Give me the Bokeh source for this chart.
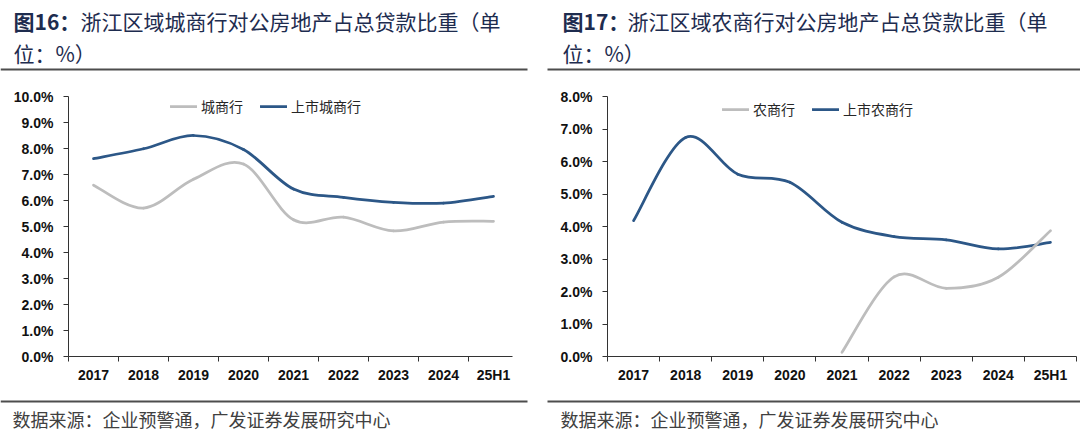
from bokeh.plotting import figure
from bokeh.models import (Range1d, FixedTicker, PrintfTickFormatter, Label, BoxAnnotation,
                          Legend, LegendItem)
from bokeh.layouts import row
from bokeh.embed import file_html
from bokeh.resources import INLINE

# ---------------- data ----------------
years = ["2017", "2018", "2019", "2020", "2021", "2022", "2023", "2024", "25H1"]
city_banks = [6.59, 5.71, 6.82, 7.40, 5.26, 5.36, 4.83, 5.17, 5.20]
listed_city_banks = [7.61, 7.99, 8.50, 7.96, 6.44, 6.12, 5.93, 5.90, 6.16]
rural_banks = [None, None, None, None, 0.13, 2.45, 2.10, 2.44, 3.87]
listed_rural_banks = [4.18, 6.74, 5.61, 5.36, 4.13, 3.69, 3.59, 3.31, 3.51]

left_title = ["图16：", "浙江区域城商行对公房地产占总贷款比重（单", "位：%）"]
right_title = ["图17：", "浙江区域农商行对公房地产占总贷款比重（单", "位：%）"]
left_legend = ["城商行", "上市城商行"]
right_legend = ["农商行", "上市农商行"]
source_text = "数据来源：企业预警通，广发证券发展研究中心"
left_yticks = list(range(0, 11))
right_yticks = list(range(0, 9))

GRAY = "#BDBDBD"
BLUE = "#2C5787"
TITLE_C = "#1E2C4F"
RULE_C = "#4D4D4D"
AXIS_C = "#333333"
CJK = "Noto Sans CJK SC"
LAT = "Liberation Sans"

PANEL_W = 540
TITLE_H = 72
CHART_H = 320
SRC_H = 42


def smooth_parts(ys):
    """Bezier segments (Catmull-Rom style, like a spreadsheet 'smoothed line')."""
    pts = [(float(i), y) for i, y in enumerate(ys) if y is not None]
    n = len(pts)
    d = dict(x0=[], y0=[], x1=[], y1=[], cx0=[], cy0=[], cx1=[], cy1=[])
    for i in range(n - 1):
        p0 = pts[i - 1] if i > 0 else pts[i]
        p1 = pts[i]
        p2 = pts[i + 1]
        p3 = pts[i + 2] if i + 2 < n else pts[i + 1]
        d["x0"].append(p1[0]); d["y0"].append(p1[1])
        d["x1"].append(p2[0]); d["y1"].append(p2[1])
        d["cx0"].append(p1[0] + (p2[0] - p0[0]) / 6.0)
        d["cy0"].append(p1[1] + (p2[1] - p0[1]) / 6.0)
        d["cx1"].append(p2[0] - (p3[0] - p1[0]) / 6.0)
        d["cy1"].append(p2[1] - (p3[1] - p1[1]) / 6.0)
    return d


def deco_fig(x0, y0, h):
    """Plain drawing surface whose data units are page pixels (y downwards)."""
    f = figure(width=PANEL_W, height=h, x_range=Range1d(x0, x0 + PANEL_W),
               y_range=Range1d(y0 + h, y0), x_axis_type=None, y_axis_type=None,
               output_backend="svg", toolbar_location=None,
               min_border_left=0, min_border_right=0, min_border_top=0, min_border_bottom=0,
               background_fill_color="white", border_fill_color="white",
               outline_line_color=None)
    f.title = None
    return f


def title_fig(x0, title, tx, tx_rest, rule_l, rule_r):
    f = deco_fig(x0, 0, TITLE_H)
    f.add_layout(Label(x=tx, y=20, text=title[0], text_font=CJK, text_font_style="bold",
                       text_font_size="21px", text_color=TITLE_C,
                       text_baseline="middle", text_align="left"))
    f.add_layout(Label(x=tx_rest, y=20, text=title[1], text_font=CJK,
                       text_font_size="21px", text_color=TITLE_C,
                       text_baseline="middle", text_align="left"))
    f.add_layout(Label(x=tx, y=52, text=title[2], text_font=CJK,
                       text_font_size="21px", text_color=TITLE_C,
                       text_baseline="middle", text_align="left"))
    f.add_layout(BoxAnnotation(left=rule_l, right=rule_r, top=68, bottom=70,
                               fill_color=RULE_C, fill_alpha=1, line_color=None))
    return f


def source_fig(x0, sx, rule_l, rule_r):
    y0 = TITLE_H + CHART_H
    f = deco_fig(x0, y0, SRC_H)
    f.add_layout(BoxAnnotation(left=rule_l, right=rule_r, top=400, bottom=402,
                               fill_color=RULE_C, fill_alpha=1, line_color=None))
    f.add_layout(Label(x=sx, y=418, text=source_text, text_font=CJK,
                       text_font_size="18px", text_color="#404040",
                       text_baseline="middle", text_align="left"))
    return f


def chart_fig(x_end, y_max, yticks, bl, br, bt, bb, gray_vals, blue_vals,
              legend_labels, legend_loc):
    p = figure(width=PANEL_W, height=CHART_H, x_range=Range1d(-0.5, x_end),
               y_range=Range1d(0, y_max), output_backend="svg", toolbar_location=None,
               min_border_left=bl, min_border_right=br,
               min_border_top=bt, min_border_bottom=bb,
               background_fill_color="white", border_fill_color="white",
               outline_line_color=None)
    p.title = None
    p.xgrid.visible = False
    p.ygrid.visible = False

    # x axis: labels at category centres, tick marks at category boundaries
    xax = p.xaxis[0]
    xax.ticker = FixedTicker(ticks=list(range(len(years))),
                             minor_ticks=[i - 0.5 for i in range(len(years) + 1)])
    xax.major_label_overrides = {i: lab for i, lab in enumerate(years)}
    xax.major_tick_line_color = None
    xax.major_tick_out = 0
    xax.major_tick_in = 0
    xax.minor_tick_out = 5
    xax.minor_tick_in = 0
    xax.minor_tick_line_color = AXIS_C
    xax.axis_line_color = AXIS_C
    xax.major_label_standoff = 5
    xax.major_label_text_font = LAT
    xax.major_label_text_font_style = "bold"
    xax.major_label_text_font_size = "14px"
    xax.major_label_text_color = "#111111"

    yax = p.yaxis[0]
    yax.ticker = FixedTicker(ticks=yticks)
    yax.formatter = PrintfTickFormatter(format="%.1f%%")
    yax.major_tick_out = 5
    yax.major_tick_in = 0
    yax.minor_tick_line_color = None
    yax.axis_line_color = AXIS_C
    yax.major_tick_line_color = AXIS_C
    yax.major_label_standoff = 10
    yax.major_label_text_font = LAT
    yax.major_label_text_font_style = "bold"
    yax.major_label_text_font_size = "14px"
    yax.major_label_text_color = "#111111"

    rb = p.bezier(source=smooth_parts(blue_vals), x0="x0", y0="y0", x1="x1", y1="y1",
                  cx0="cx0", cy0="cy0", cx1="cx1", cy1="cy1",
                  line_color=BLUE, line_width=2.75, line_cap="round")
    rg = p.bezier(source=smooth_parts(gray_vals), x0="x0", y0="y0", x1="x1", y1="y1",
                  cx0="cx0", cy0="cy0", cx1="cx1", cy1="cy1",
                  line_color=GRAY, line_width=2.75, line_cap="round")

    legend = Legend(items=[LegendItem(label=legend_labels[0], renderers=[rg]),
                           LegendItem(label=legend_labels[1], renderers=[rb])],
                    location=legend_loc, orientation="horizontal",
                    padding=0, margin=0, spacing=17, glyph_width=27, glyph_height=16,
                    label_height=16, label_width=10, label_standoff=4,
                    border_line_color=None, background_fill_alpha=0,
                    label_text_font=CJK, label_text_font_size="14px",
                    label_text_color="#262626")
    p.add_layout(legend)
    return p


# left panel (page x 0..540): frame x 68..512, y 95..357
left_chart = chart_fig(x_end=8.38, y_max=10, yticks=left_yticks,
                       bl=68, br=28, bt=95 - TITLE_H, bb=TITLE_H + CHART_H - 357,
                       gray_vals=city_banks, blue_vals=listed_city_banks,
                       legend_labels=left_legend, legend_loc=(102, 240))
# right panel (page x 540..1080): frame x 607..1076, y 96..356
right_chart = chart_fig(x_end=8.5, y_max=8, yticks=right_yticks,
                        bl=607 - 540, br=1080 - 1076, bt=96 - TITLE_H, bb=TITLE_H + CHART_H - 356,
                        gray_vals=rural_banks, blue_vals=listed_rural_banks,
                        legend_labels=right_legend, legend_loc=(115, 237))

# three separate roots, stacked on the page (so decoration frames are not aligned to charts)
top_row = row(title_fig(0, left_title, 13, 80, 0, 527),
              title_fig(540, right_title, 562, 627, 547, 1080))
chart_row = row(left_chart, right_chart)
bottom_row = row(source_fig(0, 12, 0, 527), source_fig(540, 560, 547, 1080))

open("out.html", "w").write(file_html([top_row, chart_row, bottom_row], INLINE))
